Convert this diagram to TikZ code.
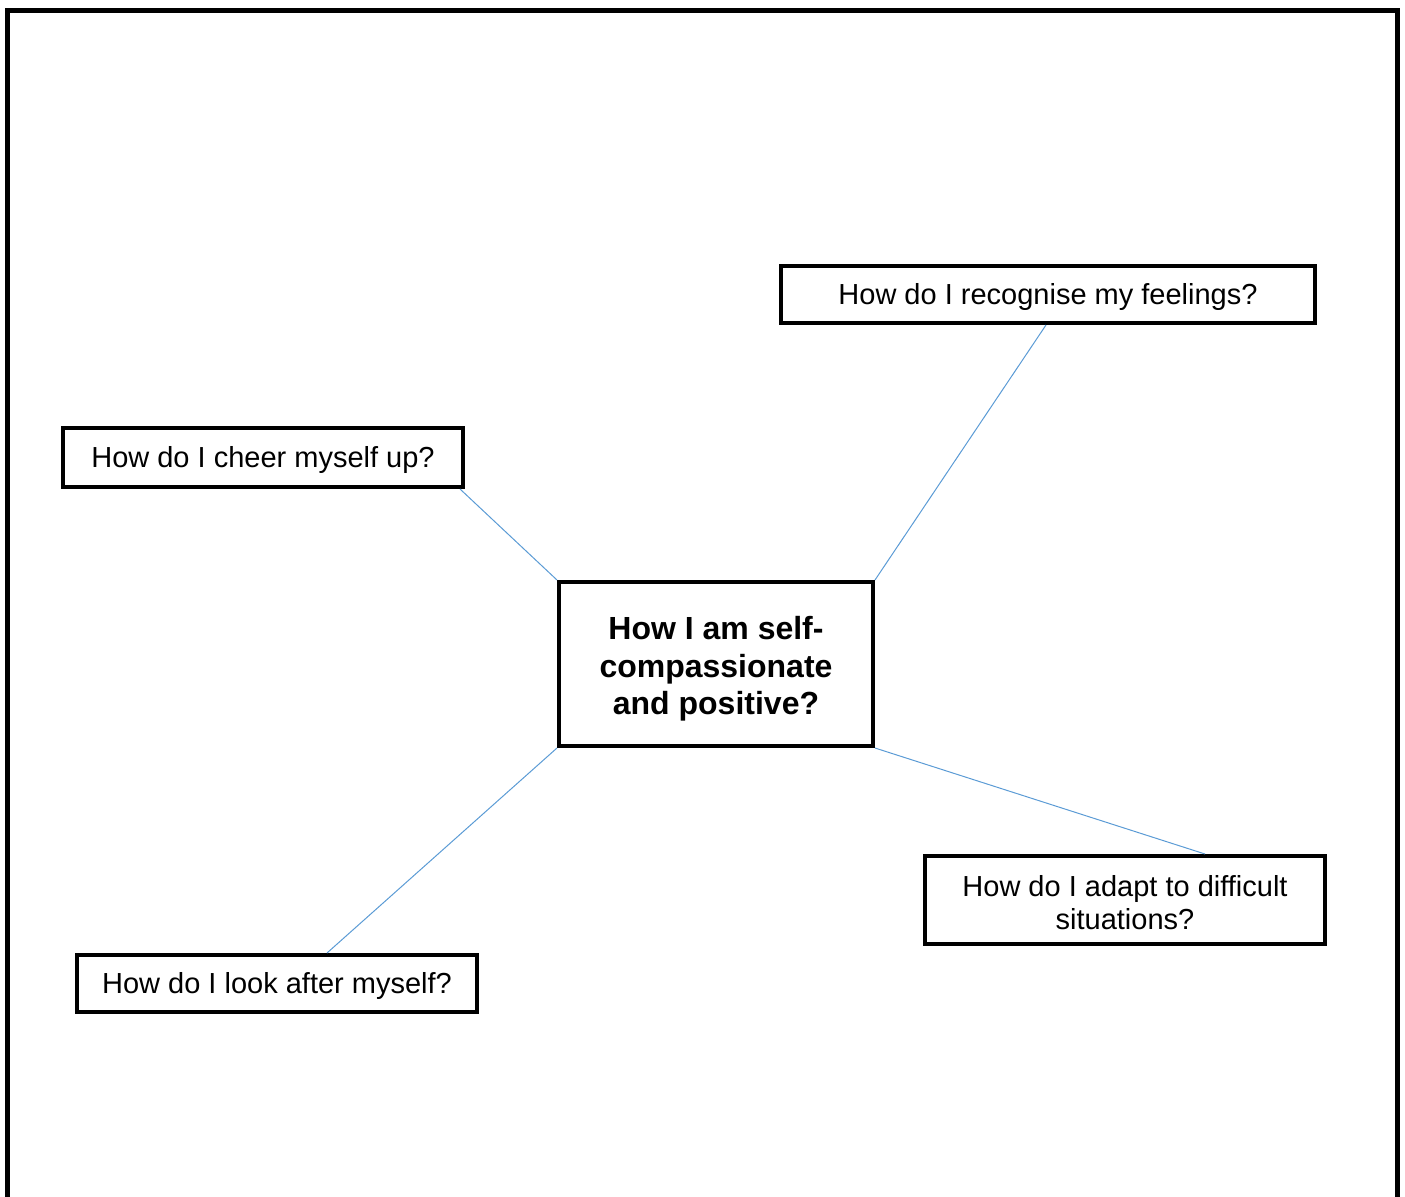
\documentclass[tikz,border=0pt]{standalone}
\usepackage{fontspec}
\setmainfont{Liberation Sans}
\definecolor{linkblue}{RGB}{91,155,213}
\begin{document}
\begin{tikzpicture}[x=0.5pt, y=-0.5pt,
	question/.style={draw, line width=2pt, inner sep=0pt, align=center, text height=13pt, font=\fontsize{14.5}{16.5}\selectfont},
	mainq/.style={question, text height=54pt, font=\bfseries\fontsize{16}{18.75}\selectfont},
	link/.style={draw=linkblue, line width=0.5pt}]
	\useasboundingbox (0,0) rectangle (1405,1196);
	\draw[line width=2.5pt, line join=miter] (7.5,1250) -- (7.5,10.5) -- (1397.5,10.5) -- (1397.5,1250);

	\node[mainq, minimum width=157pt, minimum height=82pt] (self) at (716,664) {How I am self-\\compassionate\\and positive?};
	\node[question, minimum width=267pt, minimum height=28.5pt] (feelings) at (1048,294.5) {How do I recognise my feelings?};
	\node[question, minimum width=200pt, minimum height=29.5pt] (cheer) at (263,457.5) {How do I cheer myself up?};
	\node[question, text height=29.6pt, minimum width=200pt, minimum height=44pt] (adapt) at (1125,900) {How do I adapt to difficult\\situations?};
	\node[question, minimum width=200pt, minimum height=28.5pt] (lookafter) at (277,983.5) {How do I look after myself?};

	\draw[link] ([xshift=-2.5pt]cheer.south east) -- (self.north west);
	\draw[link] ([xshift=-1pt]feelings.south) -- (self.north east);
	\draw[link] (self.south east) -- ([xshift=40pt]adapt.north);
	\draw[link] (self.south west) -- ([xshift=25pt]lookafter.north);
\end{tikzpicture}
\end{document}
